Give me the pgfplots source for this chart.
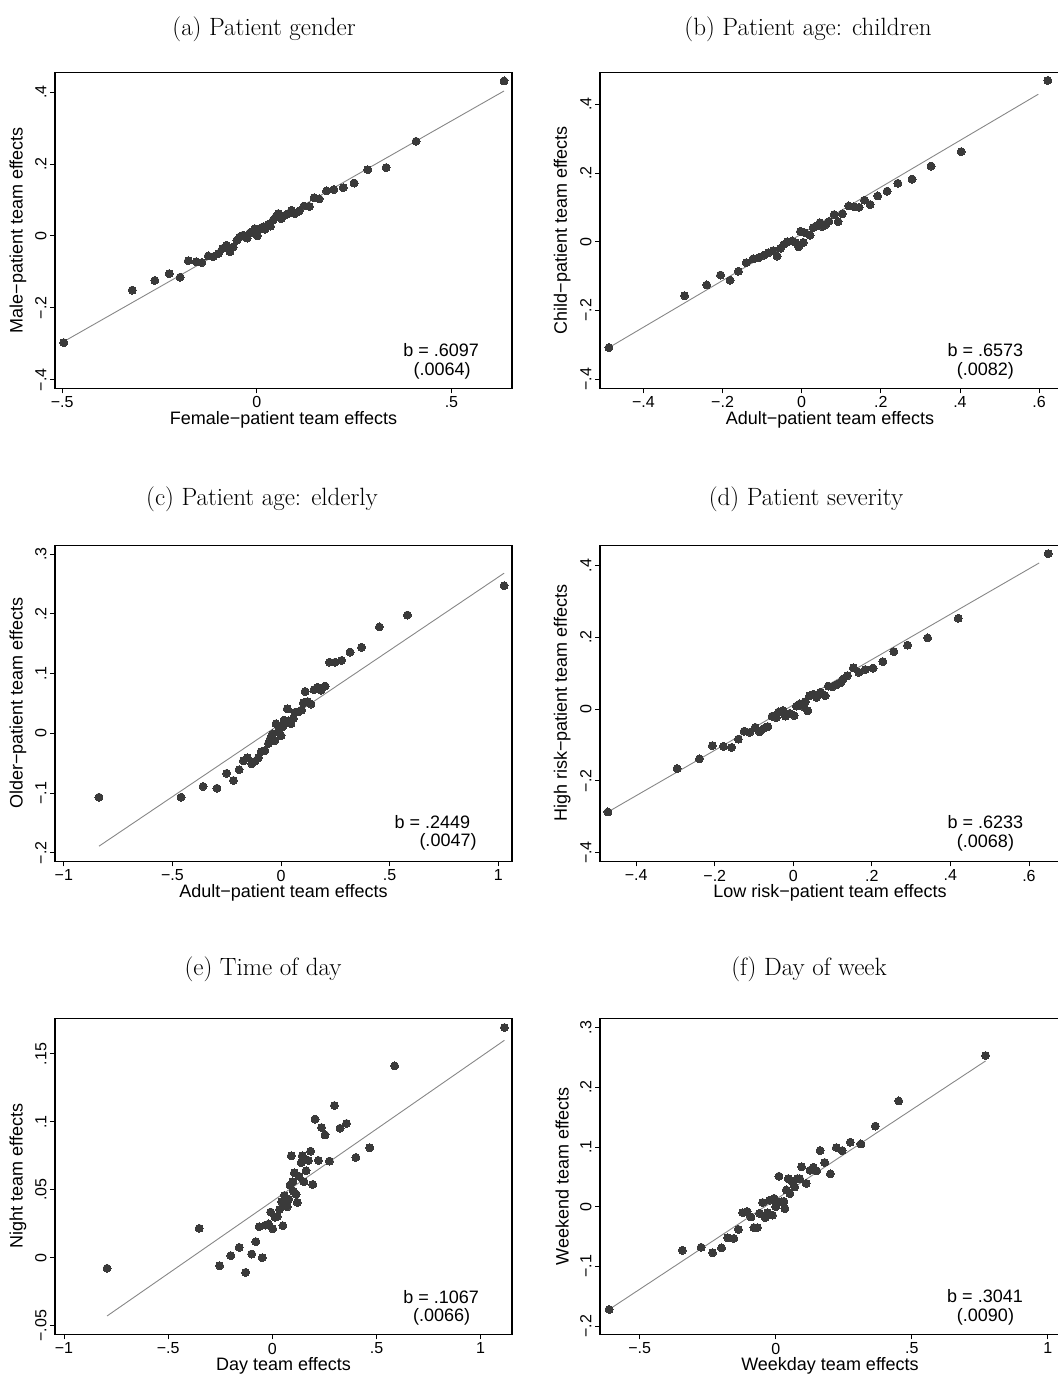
\documentclass[border=0pt]{standalone}
\usepackage{pgfplots}
\pgfplotsset{compat=1.18}
\usepackage{fontspec}
\setsansfont{Liberation Sans}
\definecolor{dotgray}{RGB}{58,58,58}
\definecolor{fitgray}{RGB}{135,135,135}
\newcommand\labfont{\sffamily\fontsize{18}{21}\selectfont}
\newcommand\tickfont{\sffamily\fontsize{16}{19}\selectfont}
\newcommand\titfont{\fontsize{25}{30}\selectfont}
\pgfplotsset{
  stata/.style={
    scale only axis, height=316pt, anchor=south west,
    axis line style={line width=1.1pt, black},
    tick align=outside, major tick length=5pt,
    every tick/.style={black, line width=0.8pt},
    xtick pos=bottom, ytick pos=left,
    tick label style={font=\tickfont},
    yticklabel style={rotate=90, anchor=south},
    xticklabel style={anchor=north},
    every axis y label/.style={at={(axis description cs:-0.081,0.5)}, rotate=90, anchor=center, font=\labfont},
    every axis x label/.style={at={(axis description cs:0.5,-0.101)}, anchor=center, font=\labfont},
    clip=false,
  },
  dots/.style={only marks, mark=*, mark size=4pt, mark options={fill=dotgray, draw=dotgray, line width=0pt}},
  fit/.style={fitgray, line width=0.9pt, no marks},
}
\begin{document}
\begin{tikzpicture}
\path[use as bounding box] (0,0) rectangle (1058pt,1377pt);
\clip (0,0) rectangle (1058pt,1377pt);
% titles
\node[anchor=base, font=\titfont] at (264pt,1341pt) {(a) Patient gender};
\node[anchor=base, font=\titfont] at (808pt,1341pt) {(b) Patient age: children};
\node[anchor=base, font=\titfont] at (262pt,871pt) {(c) Patient age: elderly};
\node[anchor=base, font=\titfont] at (806pt,871pt) {(d) Patient severity};
\node[anchor=base, font=\titfont] at (263pt,401pt) {(e) Time of day};
\node[anchor=base, font=\titfont] at (809pt,401pt) {(f) Day of week};

% (a)
\begin{axis}[stata, at={(55pt,988.7pt)}, width=457pt,
  xmin=-0.5185, xmax=0.6555, ymin=-0.424, ymax=0.455,
  xtick={-0.5,0,0.5}, xticklabels={−.5,0,.5},
  ytick={-0.4,-0.2,0,0.2,0.4}, yticklabels={−.4,−.2,0,.2,.4},
  xlabel={Female−patient team effects}, ylabel={Male−patient team effects}]
\addplot[fit] coordinates {(-0.496,-0.294) (0.635,0.403)};
\addplot[dots] coordinates {
(-0.496,-0.297) (-0.320,-0.151) (-0.262,-0.124) (-0.225,-0.105) (-0.197,-0.115)
(-0.176,-0.069) (-0.156,-0.072) (-0.141,-0.074) (-0.125,-0.056) (-0.112,-0.058)
(-0.099,-0.049) (-0.088,-0.035) (-0.078,-0.026) (-0.069,-0.044) (-0.061,-0.031)
(-0.051,-0.012) (-0.044,-0.003) (-0.035,0.002) (-0.025,-0.006) (-0.018,0.008)
(-0.005,0.020) (0.001,0.000) (0.008,0.020) (0.016,0.025) (0.021,0.018)
(0.029,0.032) (0.035,0.027) (0.042,0.044) (0.049,0.053) (0.055,0.062)
(0.063,0.048) (0.072,0.057) (0.081,0.062) (0.089,0.071) (0.098,0.062)
(0.109,0.069) (0.121,0.083) (0.135,0.082) (0.147,0.106) (0.160,0.103)
(0.179,0.125) (0.198,0.129) (0.222,0.134) (0.250,0.147) (0.285,0.184)
(0.332,0.190) (0.409,0.263) (0.635,0.431)};
\node[font=\labfont, anchor=base] at (rel axis cs:0.845,0.101) {b = .6097};
\node[font=\labfont, anchor=base] at (rel axis cs:0.847,0.040) {(.0064)};
\end{axis}

% (b)
\begin{axis}[stata, at={(600pt,988.7pt)}, width=460pt,
  xmin=-0.5097, xmax=0.6528, ymin=-0.4265, ymax=0.4928,
  xtick={-0.4,-0.2,0,0.2,0.4,0.6}, xticklabels={−.4,−.2,0,.2,.4,.6},
  ytick={-0.4,-0.2,0,0.2,0.4}, yticklabels={−.4,−.2,0,.2,.4},
  xlabel={Adult−patient team effects}, ylabel={Child−patient team effects},
  every axis y label/.style={at={(axis description cs:-0.082,0.5)}, rotate=90, anchor=center, font=\labfont}]
\addplot[fit] coordinates {(-0.487,-0.308) (0.598,0.429)};
\addplot[dots] coordinates {
(-0.487,-0.308) (-0.296,-0.157) (-0.240,-0.126) (-0.205,-0.097) (-0.181,-0.112)
(-0.160,-0.086) (-0.140,-0.061) (-0.123,-0.050) (-0.108,-0.046) (-0.095,-0.039)
(-0.084,-0.032) (-0.072,-0.026) (-0.062,-0.042) (-0.053,-0.019) (-0.045,-0.008)
(-0.036,0.000) (-0.024,0.002) (-0.015,-0.003) (-0.008,-0.015) (-0.003,0.030)
(0.004,-0.002) (0.008,0.026) (0.021,0.019) (0.029,0.041) (0.037,0.046)
(0.046,0.055) (0.052,0.044) (0.061,0.050) (0.069,0.059) (0.082,0.079)
(0.092,0.058) (0.103,0.081) (0.119,0.104) (0.132,0.102) (0.145,0.100)
(0.159,0.121) (0.173,0.108) (0.192,0.133) (0.216,0.147) (0.243,0.170)
(0.279,0.182) (0.327,0.220) (0.403,0.262) (0.622,0.469)};
\node[font=\labfont, anchor=base] at (rel axis cs:0.838,0.101) {b = .6573};
\node[font=\labfont, anchor=base] at (rel axis cs:0.838,0.040) {(.0082)};
\end{axis}

% (c)
\begin{axis}[stata, at={(55pt,515.7pt)}, width=457pt,
  xmin=-1.0405, xmax=1.0635, ymin=-0.2143, ymax=0.3147,
  xtick={-1,-0.5,0,0.5,1}, xticklabels={−1,−.5,0,.5,1},
  ytick={-0.2,-0.1,0,0.1,0.2,0.3}, yticklabels={−.2,−.1,0,.1,.2,.3},
  xlabel={Adult−patient team effects}, ylabel={Older−patient team effects}]
\addplot[fit] coordinates {(-0.838,-0.189) (1.027,0.268)};
\addplot[dots] coordinates {
(-0.838,-0.107) (-0.460,-0.107) (-0.359,-0.089) (-0.295,-0.092) (-0.250,-0.067)
(-0.219,-0.079) (-0.193,-0.061) (-0.173,-0.046) (-0.155,-0.041) (-0.135,-0.051)
(-0.120,-0.047) (-0.104,-0.041) (-0.092,-0.031) (-0.074,-0.029) (-0.058,-0.017)
(-0.048,-0.008) (-0.038,-0.001) (-0.028,-0.012) (-0.023,0.016) (-0.012,0.004)
(0.000,-0.004) (0.008,0.011) (0.014,0.022) (0.029,0.041) (0.034,0.021)
(0.046,0.016) (0.057,0.025) (0.064,0.035) (0.080,0.036) (0.095,0.039)
(0.103,0.051) (0.111,0.070) (0.123,0.053) (0.138,0.049) (0.152,0.073)
(0.169,0.077) (0.184,0.072) (0.203,0.079) (0.223,0.119) (0.249,0.119)
(0.279,0.122) (0.318,0.136) (0.371,0.144) (0.453,0.178) (0.582,0.198)
(1.027,0.247)};
\node[font=\labfont, anchor=base] at (rel axis cs:0.826,0.104) {b = .2449};
\node[font=\labfont, anchor=base] at (rel axis cs:0.860,0.046) {(.0047)};
\end{axis}

% (d)
\begin{axis}[stata, at={(600pt,515.7pt)}, width=460pt,
  xmin=-0.4922, xmax=0.6791, ymin=-0.4245, ymax=0.4563,
  xtick={-0.4,-0.2,0,0.2,0.4,0.6}, xticklabels={−.4,−.2,0,.2,.4,.6},
  ytick={-0.4,-0.2,0,0.2,0.4}, yticklabels={−.4,−.2,0,.2,.4},
  xlabel={Low risk−patient team effects}, ylabel={High risk−patient team effects},
  every axis y label/.style={at={(axis description cs:-0.082,0.5)}, rotate=90, anchor=center, font=\labfont}]
\addplot[fit] coordinates {(-0.472,-0.287) (0.626,0.407)};
\addplot[dots] coordinates {
(-0.472,-0.287) (-0.296,-0.166) (-0.239,-0.139) (-0.206,-0.102) (-0.178,-0.104)
(-0.157,-0.107) (-0.140,-0.084) (-0.125,-0.062) (-0.111,-0.065) (-0.097,-0.051)
(-0.086,-0.064) (-0.075,-0.054) (-0.065,-0.049) (-0.054,-0.020) (-0.043,-0.024)
(-0.037,-0.008) (-0.026,-0.004) (-0.020,-0.020) (-0.009,-0.012) (0.002,-0.018)
(0.008,0.008) (0.016,0.014) (0.025,0.007) (0.031,0.020) (0.037,-0.005)
(0.042,0.037) (0.051,0.041) (0.059,0.032) (0.070,0.047) (0.081,0.037)
(0.089,0.064) (0.099,0.062) (0.110,0.067) (0.121,0.073) (0.127,0.084)
(0.138,0.093) (0.153,0.115) (0.167,0.102) (0.183,0.110) (0.203,0.114)
(0.228,0.132) (0.256,0.160) (0.291,0.178) (0.342,0.198) (0.420,0.253)
(0.649,0.433)};
\node[font=\labfont, anchor=base] at (rel axis cs:0.838,0.104) {b = .6233};
\node[font=\labfont, anchor=base] at (rel axis cs:0.838,0.044) {(.0068)};
\end{axis}

% (e)
\begin{axis}[stata, at={(55pt,42.7pt)}, width=457pt,
  xmin=-1.043, xmax=1.1505, ymin=-0.0564, ymax=0.1762,
  xtick={-1,-0.5,0,0.5,1}, xticklabels={−1,−.5,0,.5,1},
  ytick={-0.05,0,0.05,0.1,0.15}, yticklabels={−.05,0,.05,.1,.15},
  xlabel={Day team effects}, ylabel={Night team effects}]
\addplot[fit] coordinates {(-0.793,-0.0429) (1.114,0.160)};
\addplot[dots] coordinates {
(-0.793,-0.0078) (-0.351,0.0216) (-0.253,-0.0059) (-0.199,0.0015) (-0.159,0.0076)
(-0.128,-0.0108) (-0.099,0.0027) (-0.079,0.0118) (-0.063,0.0228) (-0.048,0.0000)
(-0.032,0.0240) (-0.018,0.0248) (-0.008,0.0336) (0.002,0.0213) (0.013,0.0297)
(0.024,0.0304) (0.035,0.0355) (0.045,0.0412) (0.051,0.0235) (0.058,0.0458)
(0.064,0.0419) (0.072,0.0375) (0.079,0.0431) (0.085,0.0534) (0.091,0.0750)
(0.098,0.0559) (0.101,0.0490) (0.106,0.0625) (0.114,0.0468) (0.120,0.0407)
(0.128,0.0600) (0.138,0.0699) (0.144,0.0750) (0.152,0.0559) (0.162,0.0640)
(0.173,0.0716) (0.184,0.0784) (0.194,0.0539) (0.205,0.1020) (0.221,0.0716)
(0.236,0.0958) (0.253,0.0904) (0.274,0.0711) (0.298,0.1120) (0.325,0.0953)
(0.356,0.0988) (0.401,0.0738) (0.468,0.0809) (0.587,0.1412) (1.114,0.1694)};
\node[font=\labfont, anchor=base] at (rel axis cs:0.845,0.098) {b = .1067};
\node[font=\labfont, anchor=base] at (rel axis cs:0.846,0.040) {(.0066)};
\end{axis}

% (f)
\begin{axis}[stata, at={(600pt,42.7pt)}, width=460pt,
  xmin=-0.6455, xmax=1.0445, ymin=-0.2136, ymax=0.3154,
  xtick={-0.5,0,0.5,1}, xticklabels={−.5,0,.5,1},
  ytick={-0.2,-0.1,0,0.1,0.2,0.3}, yticklabels={−.2,−.1,0,.1,.2,.3},
  xlabel={Weekday team effects}, ylabel={Weekend team effects},
  every axis y label/.style={at={(axis description cs:-0.082,0.5)}, rotate=90, anchor=center, font=\labfont}]
\addplot[fit] coordinates {(-0.612,-0.172) (0.771,0.244)};
\addplot[dots] coordinates {
(-0.612,-0.172) (-0.343,-0.073) (-0.274,-0.068) (-0.232,-0.077) (-0.199,-0.069)
(-0.176,-0.052) (-0.154,-0.053) (-0.137,-0.038) (-0.121,-0.010) (-0.105,-0.008)
(-0.091,-0.017) (-0.080,-0.035) (-0.067,-0.035) (-0.059,-0.011) (-0.048,0.007)
(-0.039,-0.018) (-0.030,-0.010) (-0.022,0.011) (-0.012,-0.014) (-0.006,0.014)
(0.000,0.000) (0.006,0.008) (0.012,0.051) (0.020,0.008) (0.030,0.009)
(0.034,-0.003) (0.039,0.028) (0.046,0.047) (0.052,0.022) (0.061,0.042)
(0.070,0.033) (0.079,0.047) (0.088,0.047) (0.095,0.067) (0.112,0.039)
(0.126,0.061) (0.138,0.066) (0.150,0.060) (0.163,0.094) (0.180,0.074)
(0.201,0.055) (0.223,0.099) (0.244,0.094) (0.274,0.108) (0.313,0.105)
(0.366,0.135) (0.452,0.177) (0.771,0.253)};
\node[font=\labfont, anchor=base] at (rel axis cs:0.837,0.100) {b = .3041};
\node[font=\labfont, anchor=base] at (rel axis cs:0.838,0.040) {(.0090)};
\end{axis}
\end{tikzpicture}
\end{document}
